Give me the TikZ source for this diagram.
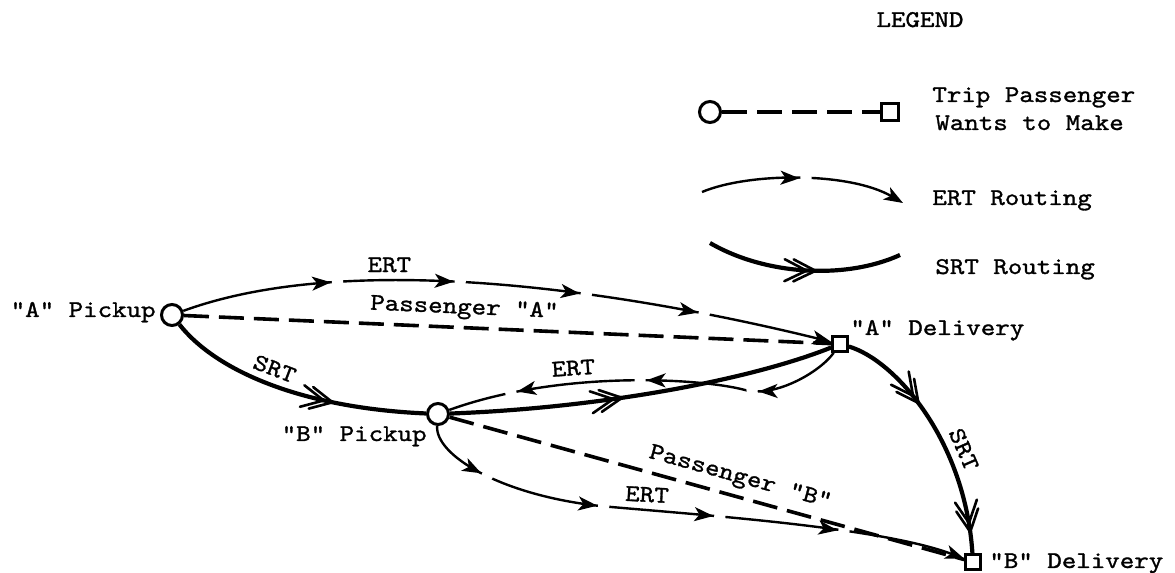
\documentclass[tikz,border=0pt]{standalone}
\usepackage{fontspec}
\newfontfamily\typ{lmmono10-regular.otf}[FakeStretch=1.15,FakeBold=1.2]
\usetikzlibrary{arrows.meta,decorations.markings}

\tikzset{
  lab/.style={font=\typ\fontsize{12}{14}\selectfont},
  txt/.style={lab,inner sep=0pt},
  pick/.style={circle,draw,line width=1.5pt,fill=white,minimum size=10.5pt,inner sep=0pt},
  drop/.style={rectangle,draw,line width=1.3pt,fill=white,minimum size=7.5pt,inner sep=0pt},
  trip/.style={line width=1.8pt,dash pattern=on 12.5pt off 5pt},
  srt/.style={line width=2.1pt},
  ert/.style={line width=1.2pt},
  ertend/.style={-{Stealth[length=9.5pt,width=7pt,inset=2.5pt]}},
  % a gap in an ERT route, with the arrow head just before it
  cut/.style={postaction={decorate,decoration={markings,mark=at position #1 with
    {\fill[white] (0.4pt,-1.8pt) rectangle (6pt,1.8pt);
     \arrow{Stealth[length=9.5pt,width=7pt,inset=2.5pt]}}}}},
  % double chevron on an SRT route
  dbl/.style={postaction={decorate,decoration={markings,mark=at position #1 with
    {\draw[line width=1.3pt,line join=round,line cap=round] (-11pt,5.5pt) -- (0,0) -- (-11pt,-5.5pt)
       (-15.5pt,5.5pt) -- (-4.5pt,0) -- (-15.5pt,-5.5pt);}}}}
}

\begin{document}
\begin{tikzpicture}[x=0.5pt,y=0.5pt]
\useasboundingbox (0,0) rectangle (1175,573);

% pickups and deliveries
\node[pick] (apick) at (172,258) {};
\node[pick] (bpick) at (438,159) {};
\node[drop] (adel) at (840,229) {};
\node[drop] (bdel) at (973,11) {};
\node[txt,anchor=base east] (apicktxt) at (156,256) {"A" Pickup};
\node[txt,anchor=base east] (bpicktxt) at (427,132) {"B" Pickup};
\node[txt,anchor=base west] (adeltxt) at (850,238) {"A" Delivery};
\node[txt,anchor=base west] (bdeltxt) at (989,5) {"B" Delivery};

% ERT routes
\draw[ert,ertend,cut/.list={0.230,0.417,0.610,0.792}] (apick)
  .. controls (350,323) and (620,283) .. node[lab,above,pos=0.35]{ERT} (adel);
\draw[ert,cut/.list={0.217,0.499,0.824}] (adel)
  .. controls (820,201) and (775,175) .. (745,183)
  .. controls (700,195) and (560,203) .. node[lab,above,pos=0.64,rotate=4]{ERT} (bpick);
\draw[ert,ertend,cut/.list={0.121,0.337,0.545,0.768}] (bpick)
  .. controls (435,118) and (500,78) .. (600,67)
  .. controls (700,58) and (880,46) .. node[lab,above,pos=0.14,rotate=-3]{ERT} (bdel);

% trips the passengers want
\draw[trip] (apick) -- node[lab,sloped,above,pos=0.432]{Passenger "A"} (adel);
\draw[trip] (bpick) -- node[lab,sloped,above,pos=0.555]{Passenger "B"} (bdel);

% SRT routes
\draw[srt,dbl=0.65] (apick) .. controls (215,203) and (300,165) ..
  node[lab,sloped,above,pos=0.5]{SRT} (bpick);
\draw[srt,dbl=0.445] (bpick) .. controls (600,165) and (750,193) .. (adel);
\draw[srt,dbl=0.36,dbl=0.915] (adel) .. controls (895,213) and (965,133) ..
  node[lab,sloped,above,pos=0.68]{SRT} (bdel);

% legend
\node[txt,anchor=base] (legtitle) at (920,546) {LEGEND};
\node[pick] (legpick) at (710,461) {};
\node[drop,minimum size=8.5pt] (legdrop) at (890,461) {};
\draw[trip] (legpick) -- (legdrop);
\node[txt,anchor=base west] (legtrip) at (932,471) {Trip Passenger};
\node[txt,anchor=base west] (legtrip2) at (935,443) {Wants to Make};
\coordinate (ert0) at (702,381);
\coordinate (ert1) at (903,370);
\draw[ert,ertend,cut=0.48] (ert0) .. controls (750,401) and (850,401) .. (ert1);
\node[txt,anchor=base west] (legert) at (932,368) {ERT Routing};
\coordinate (srt0) at (710,330);
\coordinate (srt1) at (900,318);
\draw[srt,dbl=0.56] (srt0) .. controls (765,298) and (845,293) .. (srt1);
\node[txt,anchor=base west] (legsrt) at (935,299) {SRT Routing};
\end{tikzpicture}
\end{document}
